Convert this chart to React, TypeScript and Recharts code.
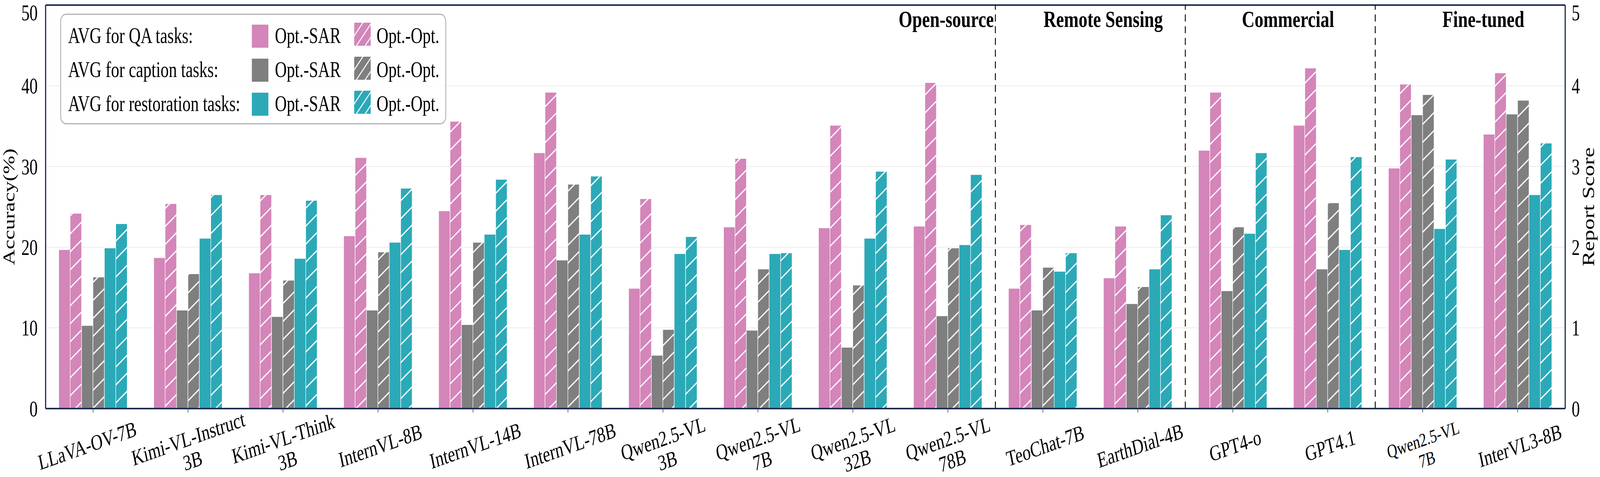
import React from 'react';
import { BarChart, Bar, XAxis, YAxis, CartesianGrid, ReferenceLine } from 'recharts';

const FONT = '"Liberation Serif", "Times New Roman", Times, serif';
const PINK = '#D485B9';
const GRAY = '#7F7F7F';
const TEAL = '#2BA9B7';
const NAVY = '#1B2D4F';
const W = 5472;
const H = 1220;

// x categories (\n = second line of the tick label)
const models = [
  'LLaVA-OV-7B',
  'Kimi-VL-Instruct\n3B',
  'Kimi-VL-Think\n3B',
  'InternVL-8B',
  'InternVL-14B',
  'InternVL-78B',
  'Qwen2.5-VL\n3B',
  'Qwen2.5-VL\n7B',
  'Qwen2.5-VL\n32B',
  'Qwen2.5-VL\n78B',
  'TeoChat-7B',
  'EarthDial-4B',
  'GPT4-o',
  'GPT4.1',
  'Qwen2.5-VL\n7B',
  'InterVL3-8B',
];

// QA tasks, accuracy (%)
const qaSar = [19.7, 18.7, 16.8, 21.4, 24.5, 31.7, 14.9, 22.5, 22.4, 22.6, 14.9, 16.2, 32.0, 35.1, 29.8, 34.0];
const qaOpt = [24.2, 25.4, 26.5, 31.1, 35.6, 39.2, 26.0, 31.0, 35.1, 40.4, 22.8, 22.6, 39.2, 42.2, 40.2, 41.6];
// caption tasks, report score (right axis)
const capSar = [1.03, 1.22, 1.14, 1.22, 1.04, 1.84, 0.66, 0.97, 0.76, 1.15, 1.22, 1.3, 1.46, 1.73, 3.64, 3.65];
const capOpt = [1.63, 1.67, 1.59, 1.94, 2.06, 2.78, 0.98, 1.73, 1.53, 1.99, 1.75, 1.51, 2.25, 2.55, 3.89, 3.82];
// restoration tasks, accuracy (%)
const resSar = [19.9, 21.1, 18.6, 20.6, 21.6, 21.6, 19.2, 19.2, 21.1, 20.3, 17.0, 17.3, 21.7, 19.7, 22.3, 26.5];
const resOpt = [22.9, 26.5, 25.8, 27.3, 28.4, 28.8, 21.3, 19.3, 29.4, 29.0, 19.3, 24.0, 31.7, 31.2, 30.9, 32.9];

const accuracyTicks = [0, 10, 20, 30, 40, 50];
const scoreTicks = [0, 1, 2, 3, 4, 5];
// first category of each group after the first one
const groupStarts = ['10', '12', '14'];

const data = models.map((m, i) => ({
  key: String(i),
  qaSar: qaSar[i],
  qaOpt: qaOpt[i],
  capSar: capSar[i],
  capOpt: capOpt[i],
  resSar: resSar[i],
  resOpt: resOpt[i],
}));

const hatchColors: [string, string][] = [
  ['pink', PINK],
  ['gray', GRAY],
  ['teal', TEAL],
];

const hatchPath = 'M-30,23 L30,-23 M0,46 L60,0 M30,69 L90,23';

const ModelTick = (props: any) => {
  const { x, y, payload } = props;
  const idx = parseInt(payload.value, 10);
  const lines = models[idx].split('\n');
  const small = idx === 14;
  const fs = small ? 48 : 56;
  const lh = small ? 52 : 58;
  const off = lines.length > 1 ? 92 : 82;
  const dx = idx === 0 ? -20 : 8;
  const firstDy = fs * 0.35 - ((lines.length - 1) * lh) / 2;
  return (
    <g transform={`translate(${x + dx},${y + off})`}>
      <text transform="rotate(-15)" textAnchor="middle" fontSize={fs} fontFamily={FONT} fill="#000">
        {lines.map((l, i) => (
          <tspan key={i} x={0} dy={i === 0 ? firstDy : lh}>
            {l}
          </tspan>
        ))}
      </text>
    </g>
  );
};

const Swatch = ({ color, hatched, id }: { color: string; hatched?: boolean; id: string }) => (
  <svg width={57} height={59} style={{ display: 'block' }}>
    {hatched && (
      <defs>
        <pattern id={id} patternUnits="userSpaceOnUse" width={30} height={34}>
          <rect width={30} height={34} fill={color} />
          <path d="M-15,17 L15,-17 M0,34 L30,0 M15,51 L45,17" stroke="#fff" strokeWidth={3} />
        </pattern>
      </defs>
    )}
    <rect width={57} height={59} fill={hatched ? `url(#${id})` : color} />
  </svg>
);

const legendRows = [
  { text: 'AVG for QA tasks:', color: PINK, name: 'qa' },
  { text: 'AVG for caption tasks:', color: GRAY, name: 'cap' },
  { text: 'AVG for restoration tasks:', color: TEAL, name: 'res' },
];

const headerStyle: React.CSSProperties = {
  position: 'absolute',
  top: 19,
  fontSize: 60,
  lineHeight: 1,
  fontWeight: 'bold',
  fontFamily: FONT,
  whiteSpace: 'nowrap',
  color: '#000',
};

const legendText: React.CSSProperties = {
  position: 'absolute',
  fontSize: 56,
  lineHeight: 1,
  whiteSpace: 'nowrap',
  color: '#000',
};

export default function App() {
  // fit the fixed-size figure into whatever CSS viewport the page gets
  const vw = typeof window !== 'undefined' && window.innerWidth ? window.innerWidth : W;
  const vh = typeof window !== 'undefined' && window.innerHeight ? window.innerHeight : H;
  const sx = vw / W;
  const sy = vh / H;
  return (
    <div style={{ position: 'absolute', left: 0, top: 0, width: vw, height: vh, overflow: 'hidden', background: '#fff' }}>
      <div
        style={{
          position: 'absolute',
          left: 0,
          top: 0,
          width: W,
          height: H,
          background: '#fff',
          fontFamily: FONT,
          transform: `scale(${sx},${sy})`,
          transformOrigin: '0 0',
        }}
      >
        <BarChart
          width={W}
          height={H}
          data={data}
          margin={{ top: 13, right: 19, bottom: 25, left: 56 }}
          barSize={39}
          barGap={0}
        >
          <defs>
            {hatchColors.map(([n, c]) => (
              <pattern key={n} id={`hatch-${n}`} patternUnits="userSpaceOnUse" width={60} height={46}>
                <rect width={60} height={46} fill={c} />
                <path d={hatchPath} stroke="#fff" strokeWidth={3.5} />
              </pattern>
            ))}
          </defs>
          <CartesianGrid yAxisId="left" vertical={false} stroke="#ebebeb" strokeWidth={2} />
          <XAxis
            dataKey="key"
            interval={0}
            height={150}
            tick={<ModelTick />}
            tickSize={10}
            tickMargin={2}
            tickLine={{ stroke: '#444', strokeWidth: 2 }}
            axisLine={{ stroke: NAVY, strokeWidth: 4 }}
          />
          <YAxis
            yAxisId="left"
            domain={[0, 50]}
            ticks={accuracyTicks}
            width={100}
            tickLine={false}
            tickSize={6}
            tickMargin={21}
            axisLine={{ stroke: NAVY, strokeWidth: 4 }}
            tick={{ fontSize: 56, fill: '#000', fontFamily: FONT }}
            label={{
              value: 'Accuracy(%)',
              angle: -90,
              position: 'left',
              offset: 26,
              style: { textAnchor: 'middle', fontSize: 56, fill: '#000', fontFamily: FONT },
            }}
          />
          <YAxis
            yAxisId="right"
            orientation="right"
            domain={[0, 5]}
            ticks={scoreTicks}
            width={100}
            tickLine={false}
            tickSize={6}
            tickMargin={16}
            axisLine={{ stroke: NAVY, strokeWidth: 4 }}
            tick={{ fontSize: 56, fill: '#000', fontFamily: FONT }}
            label={{
              value: 'Report Score',
              angle: -90,
              position: 'insideRight',
              offset: 22,
              style: { textAnchor: 'middle', fontSize: 58, fill: '#000', fontFamily: FONT },
            }}
          />
          <ReferenceLine yAxisId="left" y={50} stroke={NAVY} strokeWidth={4} />
          {groupStarts.map((k) => (
            <ReferenceLine
              key={k}
              yAxisId="left"
              x={k}
              position="start"
              stroke="#000"
              strokeWidth={3}
              strokeDasharray="18 12"
            />
          ))}
          <Bar yAxisId="left" dataKey="qaSar" fill={PINK} stroke="#fff" strokeWidth={1.5} isAnimationActive={false} />
          <Bar yAxisId="left" dataKey="qaOpt" fill="url(#hatch-pink)" stroke="#fff" strokeWidth={1.5} isAnimationActive={false} />
          <Bar yAxisId="right" dataKey="capSar" fill={GRAY} stroke="#fff" strokeWidth={1.5} isAnimationActive={false} />
          <Bar yAxisId="right" dataKey="capOpt" fill="url(#hatch-gray)" stroke="#fff" strokeWidth={1.5} isAnimationActive={false} />
          <Bar yAxisId="left" dataKey="resSar" fill={TEAL} stroke="#fff" strokeWidth={1.5} isAnimationActive={false} />
          <Bar yAxisId="left" dataKey="resOpt" fill="url(#hatch-teal)" stroke="#fff" strokeWidth={1.5} isAnimationActive={false} />
        </BarChart>

        {/* group headers */}
        <div style={{ ...headerStyle, right: W - 3399 }}>Open-source</div>
        <div style={{ ...headerStyle, left: 3773, transform: 'translateX(-50%)' }}>Remote Sensing</div>
        <div style={{ ...headerStyle, left: 4405, transform: 'translateX(-50%)' }}>Commercial</div>
        <div style={{ ...headerStyle, left: 5073, transform: 'translateX(-50%)' }}>Fine-tuned</div>

        {/* legend */}
        <div
          style={{
            position: 'absolute',
            left: 206,
            top: 35,
            width: 1314,
            height: 277,
            border: '3px solid #b3b3b3',
            borderRadius: 20,
            background: 'rgba(255,255,255,0.9)',
          }}
        >
          {legendRows.map((r, i) => {
            const top = 25 + i * 87;
            return (
              <React.Fragment key={r.name}>
                <div style={{ ...legendText, left: 24, top }}>{r.text}</div>
                <div style={{ position: 'absolute', left: 652, top: top }}>
                  <Swatch color={r.color} id={`lg-s-${r.name}`} />
                </div>
                <div style={{ ...legendText, left: 731, top }}>Opt.-SAR</div>
                <div style={{ position: 'absolute', left: 1002, top: top - 5 }}>
                  <Swatch color={r.color} hatched id={`lg-h-${r.name}`} />
                </div>
                <div style={{ ...legendText, left: 1079, top }}>Opt.-Opt.</div>
              </React.Fragment>
            );
          })}
        </div>
      </div>
    </div>
  );
}
